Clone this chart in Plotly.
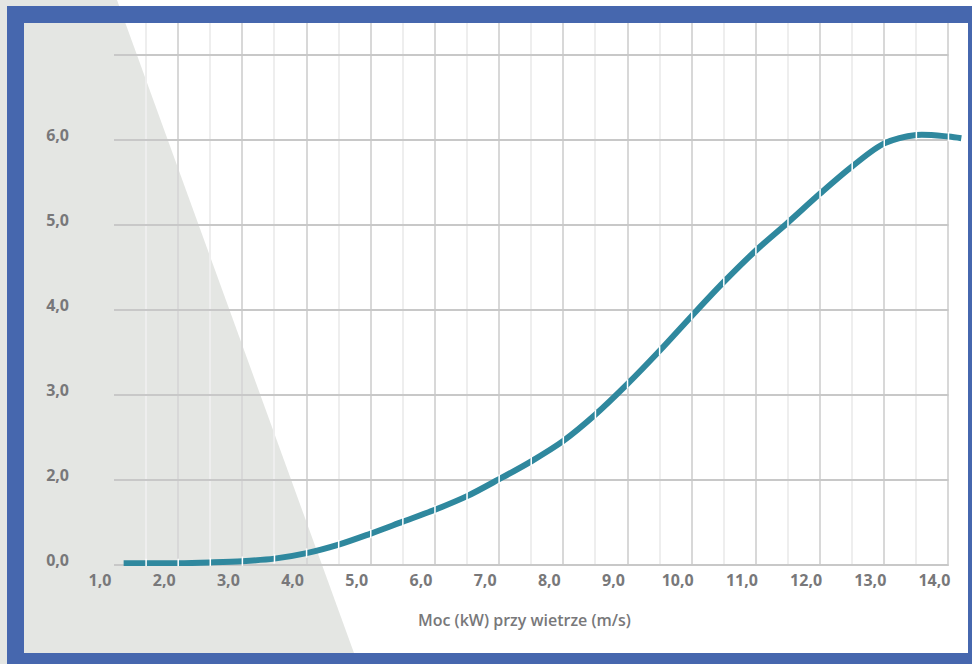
import numpy as np
import plotly.graph_objects as go

# ---- data ----
wind_speed = [1.15, 1.5, 2.0, 2.5, 3.0, 3.5, 4.0, 4.5, 5.0, 5.5, 6.0, 6.5, 7.0,
              7.5, 8.0, 8.5, 9.0, 9.5, 10.0, 10.5, 11.0, 11.5, 12.0, 12.5,
              13.0, 13.5, 14.0, 14.2]
power = [1.02, 1.02, 1.02, 1.03, 1.045, 1.075, 1.14, 1.24, 1.37, 1.51, 1.65,
         1.81, 2.01, 2.22, 2.46, 2.77, 3.13, 3.52, 3.93, 4.33, 4.70, 5.03,
         5.37, 5.69, 5.96, 6.06, 6.04, 6.02]

x_tick_vals = [1, 2, 3, 4, 5, 6, 7, 8, 9, 10, 11, 12, 13, 14]
x_tick_text = ["1,0", "2,0", "3,0", "4,0", "5,0", "6,0", "7,0", "8,0", "9,0",
               "10,0", "11,0", "12,0", "13,0", "14,0"]
y_tick_vals = [1, 2, 3, 4, 5, 6, 7]
y_tick_text = ["0,0", "2,0", "3,0", "4,0", "5,0", "6,0", ""]
x_title = "Moc (kW) przy wietrze (m/s)"

# ---- layout geometry ----
W, H = 972, 664
ML, MR, MT, MB = 114, 4, 23, 98
PW, PH = W - ML - MR, H - MT - MB


def px2x(px):
    return (px - ML) / PW


def py2y(py):
    return (H - MB - py) / PH


LINE_COLOR = "#2f889e"
BLUE = "#4667ae"
GRAY_BG = "#e4e6e3"
TEXT = "#78787a"
FONT = "Open Sans"

fig = go.Figure()

fig.add_trace(go.Scatter(
    x=wind_speed, y=power, mode="lines",
    line=dict(color=LINE_COLOR, width=6, shape="spline", smoothing=0.9),
    hoverinfo="skip", showlegend=False,
))

# white notches where the vertical grid crosses the curve
gap_x = list(np.arange(1.5, 14.01, 0.5))
gap_y = np.interp(gap_x, wind_speed, power)
gx, gy = [], []
for xv, yv in zip(gap_x, gap_y):
    gx += [xv, xv, None]
    gy += [yv - 0.055, yv + 0.055, None]
fig.add_trace(go.Scatter(
    x=gx, y=gy, mode="lines", line=dict(color="white", width=1.5),
    hoverinfo="skip", showlegend=False,
))

shapes = []
# grey diagonal background
shapes.append(dict(
    type="path", xref="paper", yref="paper", layer="below",
    path=(f"M {px2x(0)},{py2y(0)} L {px2x(117)},{py2y(0)} "
          f"L {px2x(358)},{py2y(664)} L {px2x(0)},{py2y(664)} Z"),
    fillcolor=GRAY_BG, line=dict(width=0),
))
# blue frame
for (x0, y0, x1, y1) in [(7, 6, 972, 23), (7, 6, 24, 664),
                         (7, 653, 972, 664), (968, 6, 972, 664)]:
    shapes.append(dict(
        type="rect", xref="paper", yref="paper", layer="below",
        x0=px2x(x0), x1=px2x(x1), y0=py2y(y0), y1=py2y(y1),
        fillcolor=BLUE, line=dict(width=0),
    ))
# horizontal grid lines (stop at 14,0)
for v in y_tick_vals:
    shapes.append(dict(
        type="line", xref="x", yref="y", layer="between",
        x0=x_tick_vals[0], x1=x_tick_vals[-1], y0=v, y1=v,
        line=dict(color="#c8c8c8", width=2),
    ))

fig.update_layout(
    width=W, height=H,
    margin=dict(l=ML, r=MR, t=MT, b=MB, pad=0),
    paper_bgcolor="white", plot_bgcolor="rgba(0,0,0,0)",
    shapes=shapes,
    showlegend=False,
    font=dict(family=FONT, color=TEXT),
    annotations=[dict(
        text=x_title, xref="paper", yref="paper",
        x=px2x(524.5), y=py2y(620), xanchor="center", yanchor="middle",
        showarrow=False, font=dict(family=FONT, size=16, color=TEXT, weight=600),
    )],
)

fig.update_xaxes(
    range=[1, 1 + (968 - ML) / 64.19],
    tickmode="array", tickvals=x_tick_vals, ticktext=x_tick_text,
    showgrid=True, gridcolor="#d8d8d8", gridwidth=2,
    minor=dict(dtick=0.5, tick0=1, showgrid=True, gridcolor="#eeeeee", gridwidth=2),
    zeroline=False, showline=False, ticks="",
    ticklabelshift=-14, ticklabelstandoff=3,
    tickfont=dict(family=FONT, size=16, color=TEXT, weight=700),
)
fig.update_yaxes(
    range=[1 - 1 / 85, 7 + 32 / 85],
    tickmode="array", tickvals=y_tick_vals, ticktext=y_tick_text,
    showgrid=False, zeroline=False, showline=False, ticks="",
    ticklabelshift=-5, ticklabelstandoff=44,
    tickfont=dict(family=FONT, size=16, color=TEXT, weight=700),
)

fig.write_html(
    "out.html",
    config={"displayModeBar": False, "staticPlot": True},
    post_script="document.body.style.margin='0';document.body.style.overflow='hidden';",
)
